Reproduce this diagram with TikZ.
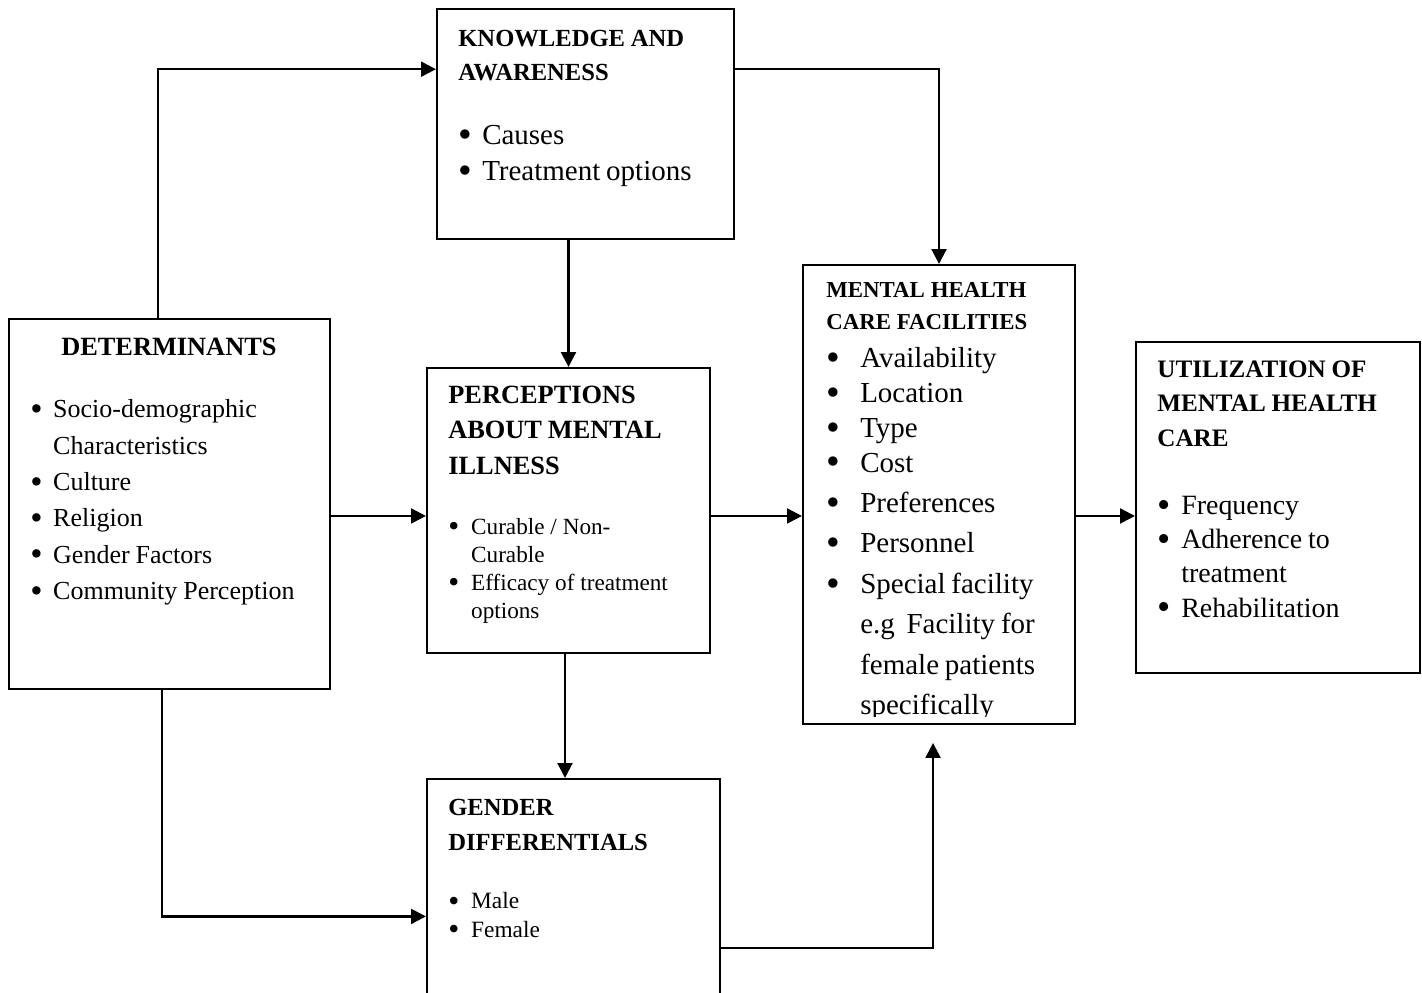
\documentclass[tikz,border=0pt]{standalone}
\usepackage{fontspec}
\setmainfont{Liberation Serif}
\usepackage{tikz}
\usetikzlibrary{arrows.meta,fit}

\newcommand{\fs}[2]{\fontsize{#1}{#2}\selectfont}
\newcommand{\bul}{\raisebox{-0.1em}{\scalebox{1.35}{\textbullet}}}
\newcommand{\itm}[2][13pt]{\par\noindent\hangindent=#1\hangafter=1\makebox[#1][l]{\bul}#2}

\begin{document}
\begin{tikzpicture}[x=0.02cm,y=-0.02cm,
    box/.style={draw, line width=1.2pt, inner sep=0pt},
    txt/.style={anchor=base west, inner sep=0pt, text width=220pt, align=left},
    arr/.style={-{Triangle[length=8.5pt,width=8.5pt]}, line width=1.3pt}]
    \clip (0,0) rectangle (1422,992);

    \node[box, fit={(437,9) (734,239)}] (know) {};
    \node[box, fit={(9,319) (330,689)}] (det) {};
    \node[box, fit={(427,368) (710,653)}] (perc) {};
    \node[box, fit={(427,779) (720,1010)}] (gend) {};
    \node[box, fit={(803,265) (1075,724)}] (fac) {};
    \node[box, fit={(1136,342) (1420,673)}] (util) {};

    \node[txt] (knowtxt) at (458,46) {\fs{14}{19.8}\bfseries KNOWLEDGE AND\\AWARENESS\par
        \vspace{15.9pt}\fs{16.5}{20.4}\mdseries
        \itm[13.6pt]{Causes}
        \itm[13.6pt]{Treatment options}\par};

    \node[txt] (dettxt) at (30,355) {\fs{15}{20.7}\bfseries\hspace*{17.6pt}DETERMINANTS\par
        \vspace{15pt}\fs{14.8}{20.7}\mdseries
        \itm{Socio-demographic\newline Characteristics}
        \itm{Culture}
        \itm{Religion}
        \itm{Gender Factors}
        \itm{Community Perception}\par};

    \node[txt] (perctxt) at (448,403) {\fs{15}{20.4}\bfseries PERCEPTIONS\\ABOUT MENTAL\\ILLNESS\par
        \vspace{18pt}\fs{13.2}{16}\mdseries
        \itm{Curable / Non-\newline Curable}
        \itm{Efficacy of treatment\newline options}\par};

    \node[txt] (gendtxt) at (448,815) {\fs{14}{20.4}\bfseries GENDER\\DIFFERENTIALS\par
        \vspace{16.5pt}\fs{13.3}{16.4}\mdseries
        \itm{Male}
        \itm{Female}\par};

    \begin{scope}
        \clip (fac.north west) rectangle ([yshift=5.1pt]fac.south east);
        \node[txt] (factxt) at (826,297) {\fs{13}{18.7}\bfseries MENTAL HEALTH\\CARE FACILITIES\par
            \vspace{1.7pt}\fs{16.5}{19.8}\mdseries
            \itm[19.3pt]{Availability}
            \itm[19.3pt]{Location}
            \itm[19.3pt]{Type}
            \itm[19.3pt]{Cost}\par
            \fs{16.5}{23}
            \itm[19.3pt]{Preferences}
            \itm[19.3pt]{Personnel}
            \itm[19.3pt]{Special facility\newline e.g\ \ Facility for\newline female patients\newline specifically}\par};
    \end{scope}

    \node[txt] (utiltxt) at (1157,377) {\fs{14.3}{19.8}\bfseries UTILIZATION OF\\MENTAL HEALTH\\CARE\par
        \vspace{19pt}\fs{15.9}{19.5}\mdseries
        \itm[13.6pt]{Frequency}
        \itm[13.6pt]{Adherence to\newline treatment}
        \itm[13.6pt]{Rehabilitation}\par};

    \coordinate (lvl) at ([yshift=-3.1pt]perc.west);
    \coordinate (pg) at ([xshift=-2pt]perc.south);
    \coordinate (facin) at ([xshift=-3.4pt,yshift=-10.2pt]fac.south);

    \draw[arr] ([xshift=-6.5pt]det.north) |- ([yshift=31.2pt]know.west);
    \draw[arr] ([yshift=31.2pt]know.east) -| (fac.north);
    \draw[arr] (perc.north |- know.south) -- (perc.north);
    \draw[arr] (det.east |- lvl) -- (lvl);
    \draw[arr] (perc.east |- lvl) -- (fac.west |- lvl);
    \draw[arr] (fac.east |- lvl) -- (util.west |- lvl);
    \draw[arr] (pg) -- (pg |- gend.north);
    \draw[arr] ([xshift=-4.2pt]det.south) |- ([yshift=-78.8pt]gend.north west);
    \draw[arr] ([yshift=-96.9pt]gend.north east) -| (facin);
\end{tikzpicture}
\end{document}
